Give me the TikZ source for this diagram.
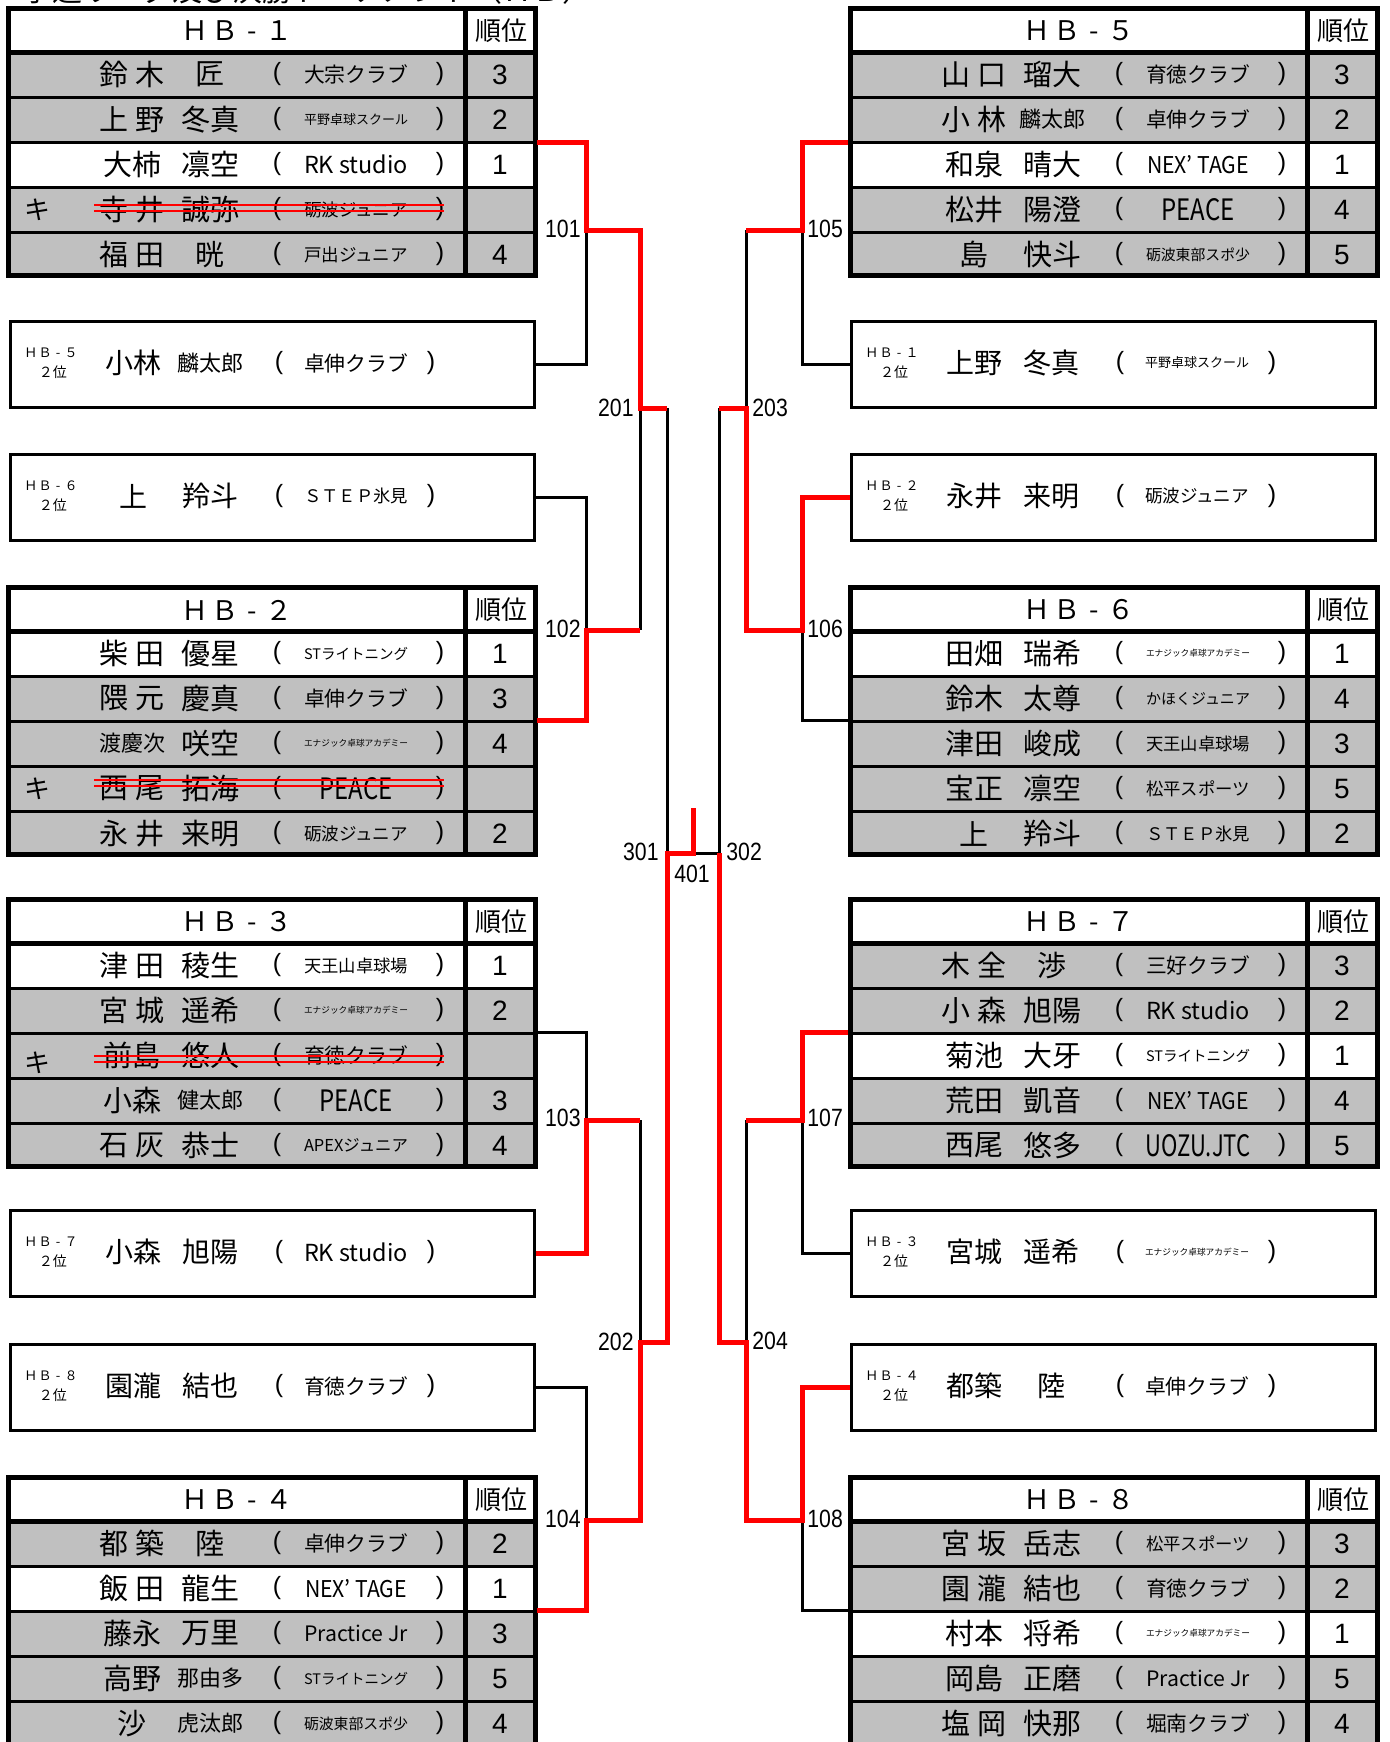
\documentclass[tikz,border=0pt]{standalone}
\usepackage{fontspec}
\setmainfont{Noto Sans CJK JP}
\newfontfamily\lat{Liberation Sans}
\definecolor{cellgray}{HTML}{C0C0C0}
\definecolor{winred}{HTML}{FF0000}
\newcommand\fsz[1]{\fontsize{#1pt}{#1pt}\selectfont}
\newcommand\gp{\hspace{4pt}}
\newcommand\sm[1]{{\fsz{11}#1}}
\newcommand\cl[1]{\resizebox{52pt}{!}{#1}}
\newcommand\clx[3]{\resizebox{#1pt}{#2pt}{#3}}
\newcommand\hb[1]{Ｈ\hspace{0.1em}Ｂ\makebox[1em]{-}#1}
\tikzset{
 txt/.style={inner sep=0pt, anchor=center},
 frame/.style={line width=2.5pt, draw=black},
 rowline/.style={line width=1.5pt, draw=black},
 boxframe/.style={line width=1.5pt, draw=black},
 winline/.style={draw=winred, line width=2.5pt, line join=miter},
 loseline/.style={draw=black, line width=1.5pt, line join=miter},
 strikeline/.style={draw=winred, line width=1pt},
 lbl/.style={inner sep=0pt},
}
\newcommand\grpframe[3]{%
 \fill[cellgray] (0,46) rectangle (531,271);
 \fill[white] (0,0) rectangle (531,46);
 \fill[white] (0,{1+45*#3}) rectangle (531,{46+45*#3});
 \foreach \yy in {91,136,181,226} {\draw[rowline] (0,\yy) -- (531,\yy);}
 \draw[frame] (0,46) -- (531,46);
 \draw[frame] (459,0) -- (459,271);
 \draw[frame] (2,2) rectangle (529,269);
 \node[txt] (#1h) at (231,25) {\fsz{13.5}\hb{#2}};
 \node[txt] (#1j) at (495,25) {\fsz{13}順位};
}
\newcommand\prow[6]{%
 \node[txt] (#1f#2) at (126,{45*#2+23.5}) {\fsz{14.5}#3};
 \node[txt] (#1g#2) at (204,{45*#2+23.5}) {\fsz{14.5}#4};
 \node[txt] (#1o#2) at (271,{45*#2+23.5}) {\lat\fsz{12.5}(};
 \node[txt] (#1c#2) at (350,{45*#2+23.5}) {#5};
 \node[txt] (#1e#2) at (434,{45*#2+23.5}) {\lat\fsz{12.5})};
 \node[txt] (#1r#2) at (494,{45*#2+23.5}) {\lat\fsz{14}#6};
}
\newcommand\kiken[4]{%
 \node[txt] (#1k#2) at (32,{45*#2+23.5+#3}) {\fsz{13}キ};
 \draw[strikeline] (88,#4) -- (438,#4);
 \draw[strikeline] (88,{#4+6}) -- (438,{#4+6});
}
\newcommand\pbox[5]{%
 \fill[white] (0,0) rectangle (527,89);
 \draw[boxframe] (1.5,1.5) rectangle (525.5,87.5);
 \node[txt] (#1l) at (42,33) {\fsz{6.5}\hb{#2}};
 \node[txt] (#1p) at (44,52) {\fsz{7}２位};
 \node[txt] (#1f) at (124,43) {\fsz{14}#3};
 \node[txt] (#1g) at (201,43) {\fsz{14}#4};
 \node[txt] (#1o) at (270,43) {\lat\fsz{12.5}(};
 \node[txt] (#1c) at (347,43) {#5};
 \node[txt] (#1e) at (422,43) {\lat\fsz{12.5})};
}
\newcommand\mlabel[1]{\scalebox{0.85}[1]{\lat\fsz{12.5}#1}}
\begin{document}
\begin{tikzpicture}[x=0.5pt,y=-0.5pt]
\fill[white] (0,0) rectangle (1390,1742);
\useasboundingbox (0,0) rectangle (1390,1742);
\node[anchor=base west, inner sep=0pt] (title) at (22,1) {\fsz{15}予選リーグ及び決勝トーナメント（ＨＢ）};

% ---------- left tables ----------
\begin{scope}[shift={(6,6)}]
\grpframe{ga}{１}{3}
\prow{ga}{1}{鈴\gp 木}{匠}{\cl{大宗クラブ}}{3}
\prow{ga}{2}{上\gp 野}{冬真}{\cl{平野卓球スクール}}{2}
\prow{ga}{3}{大柿}{凛空}{\cl{RK studio}}{1}
\prow{ga}{4}{寺\gp 井}{誠弥}{\cl{砺波ジュニア}}{}
\kiken{ga}{4}{0}{199}
\prow{ga}{5}{福\gp 田}{晄}{\cl{戸出ジュニア}}{4}
\end{scope}

\begin{scope}[shift={(6,585)}]
\grpframe{gb}{２}{1}
\prow{gb}{1}{柴\gp 田}{優星}{\cl{STライトニング}}{1}
\prow{gb}{2}{隈\gp 元}{慶真}{\cl{卓伸クラブ}}{3}
\prow{gb}{3}{\sm{渡慶次}}{咲空}{\cl{エナジック卓球アカデミー}}{4}
\prow{gb}{4}{西\gp 尾}{拓海}{\clx{36.5}{11}{PEACE}}{}
\kiken{gb}{4}{0}{195}
\prow{gb}{5}{永\gp 井}{来明}{\cl{砺波ジュニア}}{2}
\end{scope}

\begin{scope}[shift={(6,897)}]
\grpframe{gc}{３}{1}
\prow{gc}{1}{津\gp 田}{稜生}{\cl{天王山卓球場}}{1}
\prow{gc}{2}{宮\gp 城}{遥希}{\cl{エナジック卓球アカデミー}}{2}
\prow{gc}{3}{前島}{悠人}{\cl{育徳クラブ}}{}
\kiken{gc}{3}{7}{159}
\prow{gc}{4}{小森}{\sm{健太郎}}{\clx{36.5}{11}{PEACE}}{3}
\prow{gc}{5}{石\gp 灰}{恭士}{\cl{APEXジュニア}}{4}
\end{scope}

\begin{scope}[shift={(6,1475)}]
\grpframe{gd}{４}{2}
\prow{gd}{1}{都\gp 築}{陸}{\cl{卓伸クラブ}}{2}
\prow{gd}{2}{飯\gp 田}{龍生}{\clx{51}{9}{NEX’ TAGE}}{1}
\prow{gd}{3}{藤永}{万里}{\cl{Practice Jr}}{3}
\prow{gd}{4}{高野}{\sm{那由多}}{\cl{STライトニング}}{5}
\prow{gd}{5}{沙}{\sm{虎汰郎}}{\cl{砺波東部スポ少}}{4}
\end{scope}

% ---------- right tables ----------
\begin{scope}[shift={(848,6)}]
\grpframe{ge}{５}{3}
\prow{ge}{1}{山\gp 口}{瑠大}{\cl{育徳クラブ}}{3}
\prow{ge}{2}{小\gp 林}{\sm{麟太郎}}{\cl{卓伸クラブ}}{2}
\prow{ge}{3}{和泉}{晴大}{\clx{51}{9}{NEX’ TAGE}}{1}
\prow{ge}{4}{松井}{陽澄}{\clx{36.5}{11}{PEACE}}{4}
\prow{ge}{5}{島}{快斗}{\cl{砺波東部スポ少}}{5}
\end{scope}

\begin{scope}[shift={(848,585)}]
\grpframe{gf}{６}{1}
\prow{gf}{1}{田畑}{瑞希}{\cl{エナジック卓球アカデミー}}{1}
\prow{gf}{2}{鈴木}{太尊}{\cl{かほくジュニア}}{4}
\prow{gf}{3}{津田}{峻成}{\cl{天王山卓球場}}{3}
\prow{gf}{4}{宝正}{凛空}{\cl{松平スポーツ}}{5}
\prow{gf}{5}{上}{羚斗}{\cl{ＳＴＥＰ氷見}}{2}
\end{scope}

\begin{scope}[shift={(848,897)}]
\grpframe{gg}{７}{3}
\prow{gg}{1}{木\gp 全}{渉}{\cl{三好クラブ}}{3}
\prow{gg}{2}{小\gp 森}{旭陽}{\cl{RK studio}}{2}
\prow{gg}{3}{菊池}{大牙}{\cl{STライトニング}}{1}
\prow{gg}{4}{荒田}{凱音}{\clx{51}{9}{NEX’ TAGE}}{4}
\prow{gg}{5}{西尾}{悠多}{\clx{52.5}{11}{UOZU.JTC}}{5}
\end{scope}

\begin{scope}[shift={(848,1475)}]
\grpframe{gh}{８}{3}
\prow{gh}{1}{宮\gp 坂}{岳志}{\cl{松平スポーツ}}{3}
\prow{gh}{2}{園\gp 瀧}{結也}{\cl{育徳クラブ}}{2}
\prow{gh}{3}{村本}{将希}{\cl{エナジック卓球アカデミー}}{1}
\prow{gh}{4}{岡島}{正磨}{\cl{Practice Jr}}{5}
\prow{gh}{5}{塩\gp 岡}{快那}{\cl{堀南クラブ}}{4}
\end{scope}

% ---------- second-place boxes ----------
\begin{scope}[shift={(9,320)}]
\pbox{ba}{５}{小林}{\sm{麟太郎}}{\cl{卓伸クラブ}}
\end{scope}
\begin{scope}[shift={(9,453)}]
\pbox{bb}{６}{上}{羚斗}{\cl{ＳＴＥＰ氷見}}
\end{scope}
\begin{scope}[shift={(9,1209)}]
\pbox{bc}{７}{小森}{旭陽}{\cl{RK studio}}
\end{scope}
\begin{scope}[shift={(9,1343)}]
\pbox{bd}{８}{園瀧}{結也}{\cl{育徳クラブ}}
\end{scope}
\begin{scope}[shift={(850,320)}]
\pbox{be}{１}{上野}{冬真}{\cl{平野卓球スクール}}
\end{scope}
\begin{scope}[shift={(850,453)}]
\pbox{bf}{２}{永井}{来明}{\cl{砺波ジュニア}}
\end{scope}
\begin{scope}[shift={(850,1209)}]
\pbox{bg}{３}{宮城}{遥希}{\cl{エナジック卓球アカデミー}}
\end{scope}
\begin{scope}[shift={(850,1343)}]
\pbox{bh}{４}{都築}{陸}{\cl{卓伸クラブ}}
\end{scope}

% ---------- bracket coordinates ----------
\coordinate (t1) at (537,142);
\coordinate (bA) at (536,364);
\coordinate (bB) at (536,497);
\coordinate (t2) at (537,720);
\coordinate (t3) at (537,1032);
\coordinate (bC) at (536,1253);
\coordinate (bD) at (536,1387);
\coordinate (t4) at (537,1610);
\coordinate (m101) at (586,230);
\coordinate (m102) at (586,630);
\coordinate (m103) at (586,1120);
\coordinate (m104) at (586,1520);
\coordinate (j201) at (640,408);
\coordinate (j202) at (640,1342);
\coordinate (o201) at (667,408);
\coordinate (o202) at (667,1342);
\coordinate (j301) at (667,853);
\coordinate (j401) at (693,853);
\coordinate (top401) at (693,808);
\coordinate (j302) at (719,853);
\coordinate (t5) at (848,142);
\coordinate (rA) at (850,364);
\coordinate (rB) at (850,497);
\coordinate (t6) at (848,720);
\coordinate (t7) at (848,1032);
\coordinate (rC) at (850,1253);
\coordinate (rD) at (850,1387);
\coordinate (t8) at (848,1610);
\coordinate (m105) at (802,230);
\coordinate (m106) at (802,630);
\coordinate (m107) at (802,1120);
\coordinate (m108) at (802,1520);
\coordinate (j203) at (746,408);
\coordinate (j204) at (746,1342);
\coordinate (o203) at (719,408);
\coordinate (o204) at (719,1342);

% ---------- losing (black) lines ----------
\draw[loseline] (bA) -| (m101);
\draw[loseline] (bB) -| (m102);
\draw[loseline] (m102 -| j201) -- (j201);
\draw[loseline] (o201) -- (j301);
\draw[loseline] (t3) -| (m103);
\draw[loseline] (m103 -| j202) -- (j202);
\draw[loseline] (bD) -| (m104);
\draw[loseline] (j401) -- (j302);
\draw[loseline] (rA) -| (m105);
\draw[loseline] (m105 -| j203) -- (j203);
\draw[loseline] (t6) -| (m106);
\draw[loseline] (o203) -- (j302);
\draw[loseline] (rC) -| (m107);
\draw[loseline] (m107 -| j204) -- (j204);
\draw[loseline] (t8) -| (m108);

% ---------- winning (red) lines ----------
\draw[winline] (t1) -| (m101) -- (m101 -| j201) -- (j201) -- (o201);
\draw[winline] (t2) -| (m102) -- (m102 -| j201);
\draw[winline] (bC) -| (m103) -- (m103 -| j202);
\draw[winline] (t4) -| (m104) -- (m104 -| j202) -- (j202) -- (o202) -- (j301) -- (j401) -- (top401);
\draw[winline] (t5) -| (m105) -- (m105 -| j203);
\draw[winline] (rB) -| (m106) -- (m106 -| j203) -- (j203) -- (o203);
\draw[winline] (t7) -| (m107) -- (m107 -| j204);
\draw[winline] (rD) -| (m108) -- (m108 -| j204) -- (j204) -- (o204) -- (j302);

% ---------- match labels ----------
\node[lbl, anchor=east] (l101) at (581,229) {\mlabel{101}};
\node[lbl, anchor=east] (l102) at (581,629) {\mlabel{102}};
\node[lbl, anchor=east] (l103) at (581,1118) {\mlabel{103}};
\node[lbl, anchor=east] (l104) at (581,1519) {\mlabel{104}};
\node[lbl, anchor=east] (l201) at (634,408) {\mlabel{201}};
\node[lbl, anchor=east] (l202) at (634,1342) {\mlabel{202}};
\node[lbl, anchor=east] (l301) at (659,852) {\mlabel{301}};
\node[lbl, anchor=center] (l401) at (692,874) {\mlabel{401}};
\node[lbl, anchor=west] (l302) at (726,852) {\mlabel{302}};
\node[lbl, anchor=west] (l203) at (752,408) {\mlabel{203}};
\node[lbl, anchor=west] (l204) at (752,1341) {\mlabel{204}};
\node[lbl, anchor=west] (l105) at (807,229) {\mlabel{105}};
\node[lbl, anchor=west] (l106) at (807,629) {\mlabel{106}};
\node[lbl, anchor=west] (l107) at (807,1118) {\mlabel{107}};
\node[lbl, anchor=west] (l108) at (807,1519) {\mlabel{108}};
\end{tikzpicture}
\end{document}
